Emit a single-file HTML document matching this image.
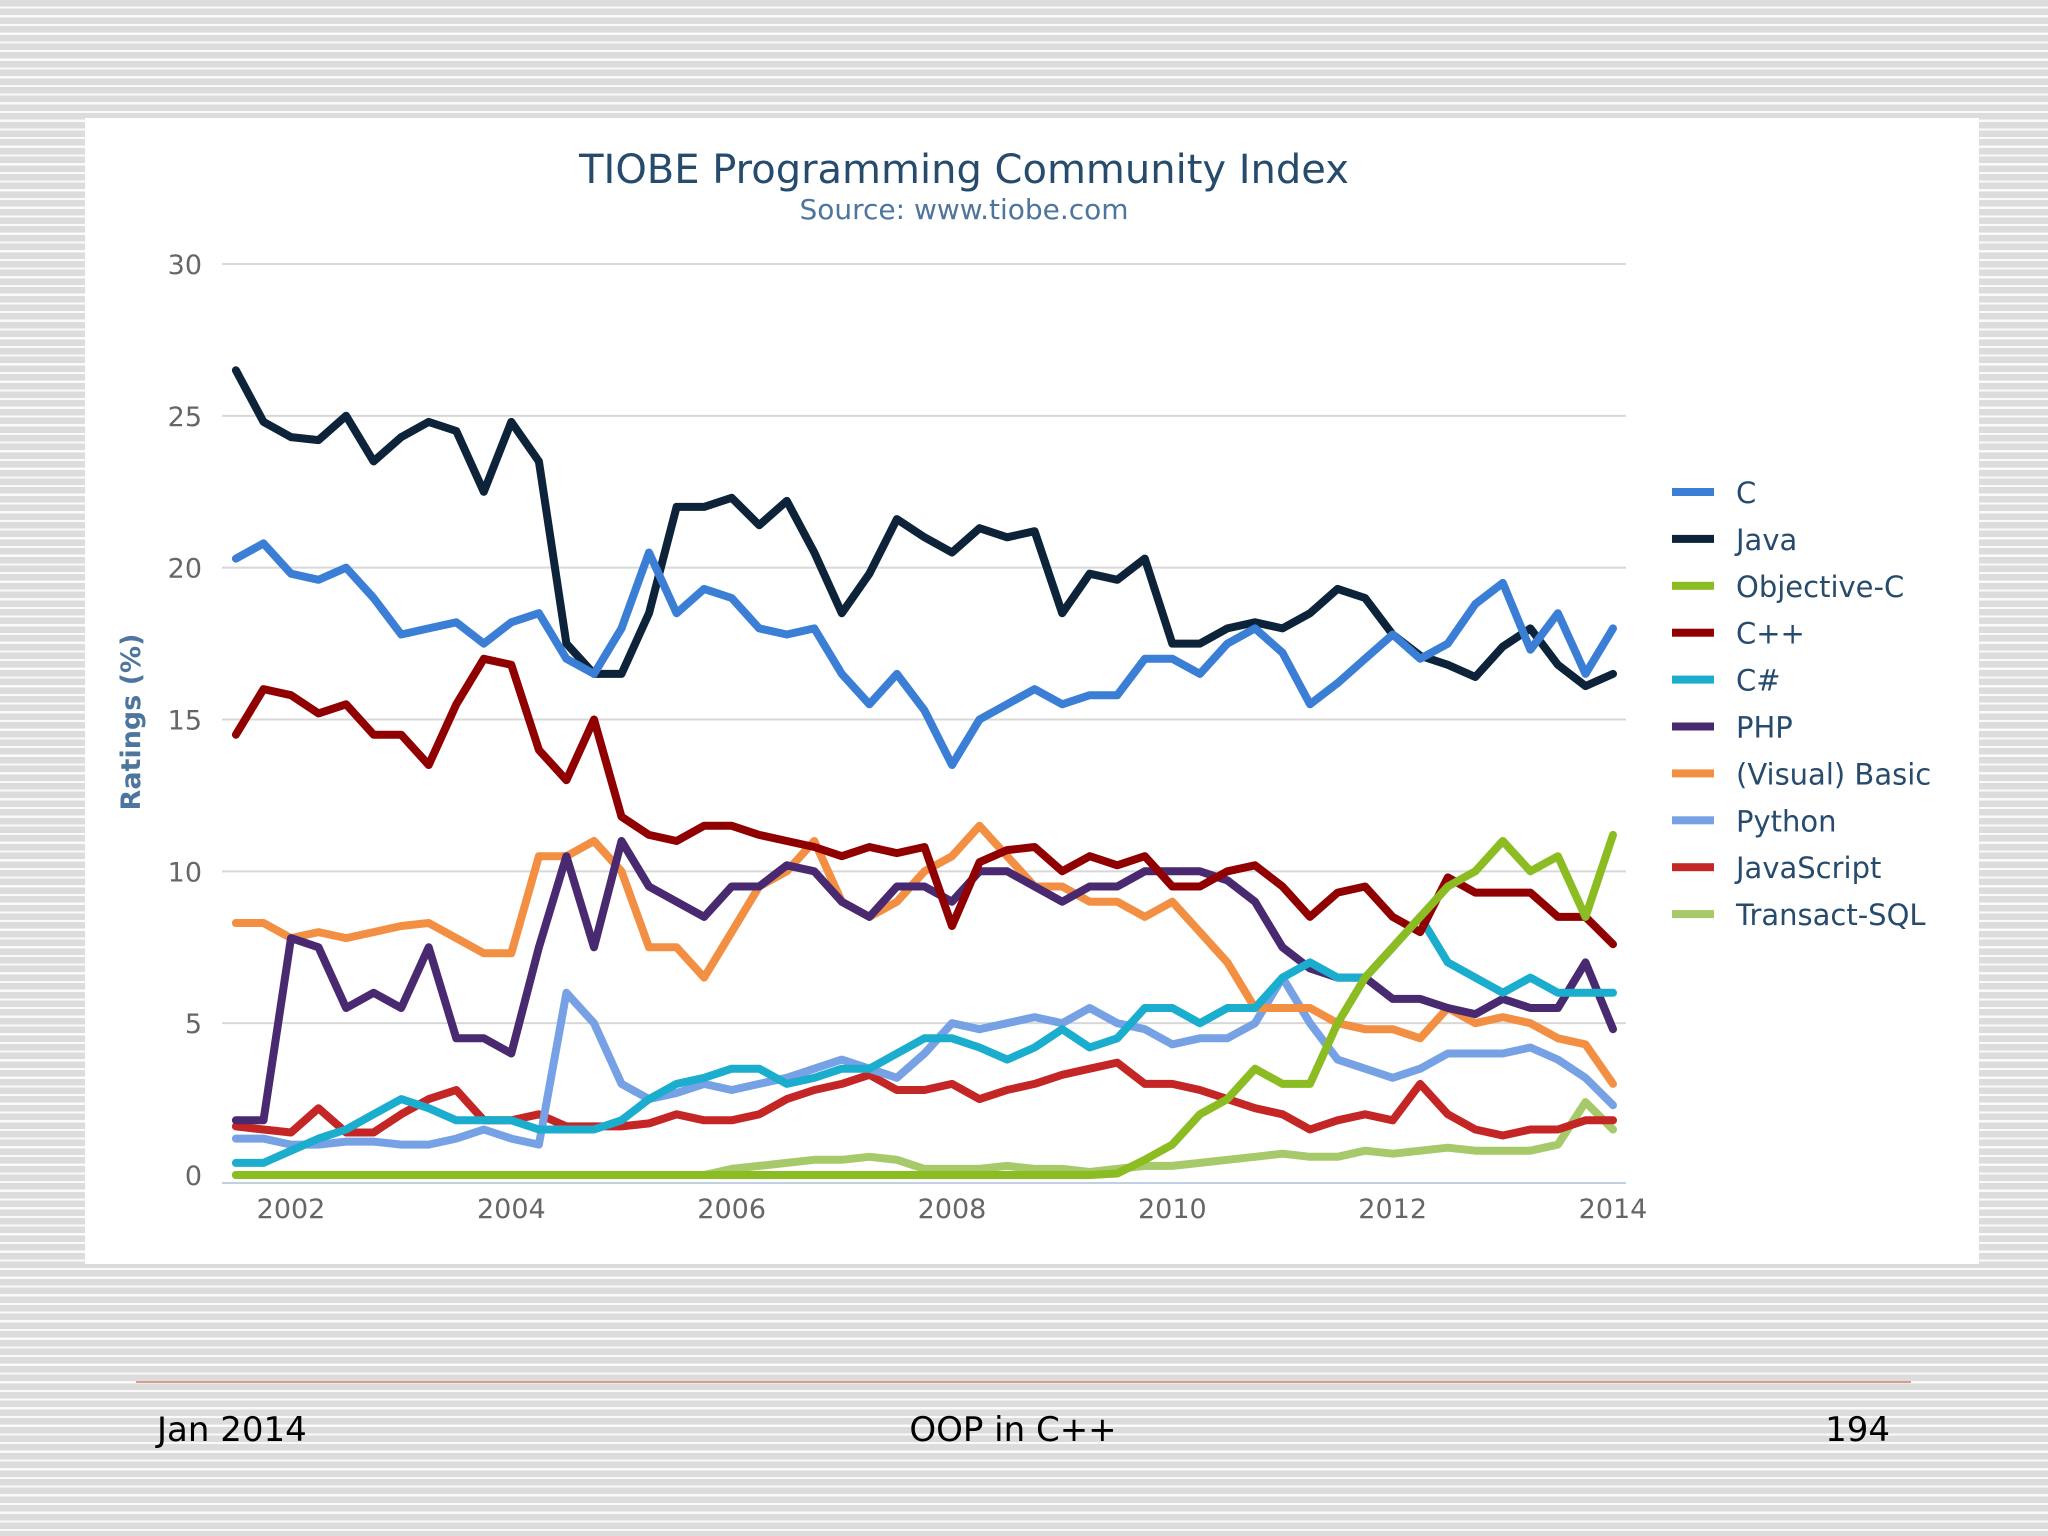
<!DOCTYPE html>
<html><head><meta charset="utf-8">
<style>
html,body{margin:0;padding:0;}
body{width:2048px;height:1536px;position:relative;overflow:hidden;
background:repeating-linear-gradient(to bottom,#dcdcdc 0px,#dcdcdc 6.5px,#fafafa 6.5px,#fafafa 8.7px);
font-family:"DejaVu Sans","Liberation Sans",sans-serif;}
#panel{position:absolute;left:85px;top:118px;width:1894px;height:1146px;background:#fff;}
svg{position:absolute;left:0;top:0;}
.foot{position:absolute;top:1410px;font-size:34px;color:#000;white-space:nowrap;}
</style></head><body>
<div id="panel"></div>
<svg id="chart" width="2048" height="1536"></svg>
<div style="position:absolute;left:136px;top:1381px;width:1775px;height:2px;background:#d99a8f;"></div>
<div class="foot" style="left:157px;">Jan 2014</div>
<div class="foot" style="left:813px;width:400px;text-align:center;">OOP in C++</div>
<div class="foot" style="left:1740px;width:150px;text-align:right;">194</div>
<script>
const yTicks=[0,5,10,15,20,25,30];
const xTicks=[2002,2004,2006,2008,2010,2012,2014];
const startYear=2001.5, stepYear=0.25;
const seriesNames=["C","Java","Objective-C","C++","C#","PHP","(Visual) Basic","Python","JavaScript","Transact-SQL"];
const seriesColors=["#3a7fd5","#0d233a","#8bbc21","#910000","#1aadce","#492970","#f28f43","#77a1e5","#c42525","#a6c96a"];
const cData=[20.3,20.8,19.8,19.6,20.0,19.0,17.8,18.0,18.2,17.5,18.2,18.5,17.0,16.5,18.0,20.5,18.5,19.3,19.0,18.0,17.8,18.0,16.5,15.5,16.5,15.3,13.5,15.0,15.5,16.0,15.5,15.8,15.8,17.0,17.0,16.5,17.5,18.0,17.2,15.5,16.2,17.0,17.8,17.0,17.5,18.8,19.5,17.3,18.5,16.5,18.0];
const javaData=[26.5,24.8,24.3,24.2,25.0,23.5,24.3,24.8,24.5,22.5,24.8,23.5,17.5,16.5,16.5,18.5,22.0,22.0,22.3,21.4,22.2,20.5,18.5,19.8,21.6,21.0,20.5,21.3,21.0,21.2,18.5,19.8,19.6,20.3,17.5,17.5,18.0,18.2,18.0,18.5,19.3,19.0,17.8,17.1,16.8,16.4,17.4,18.0,16.8,16.1,16.5];
const objcData=[0,0,0,0,0,0,0,0,0,0,0,0,0,0,0,0,0,0,0,0,0,0,0,0,0,0,0,0,0,0,0,0,0.05,0.5,1.0,2.0,2.5,3.5,3.0,3.0,5.0,6.5,7.5,8.5,9.5,10.0,11.0,10.0,10.5,8.5,11.2];
const cppData=[14.5,16.0,15.8,15.2,15.5,14.5,14.5,13.5,15.5,17.0,16.8,14.0,13.0,15.0,11.8,11.2,11.0,11.5,11.5,11.2,11.0,10.8,10.5,10.8,10.6,10.8,8.2,10.3,10.7,10.8,10.0,10.5,10.2,10.5,9.5,9.5,10.0,10.2,9.5,8.5,9.3,9.5,8.5,8.0,9.8,9.3,9.3,9.3,8.5,8.5,7.6];
const csData=[0.4,0.4,0.8,1.2,1.5,2.0,2.5,2.2,1.8,1.8,1.8,1.5,1.5,1.5,1.8,2.5,3.0,3.2,3.5,3.5,3.0,3.2,3.5,3.5,4.0,4.5,4.5,4.2,3.8,4.2,4.8,4.2,4.5,5.5,5.5,5.0,5.5,5.5,6.5,7.0,6.5,6.5,7.5,8.5,7.0,6.5,6.0,6.5,6.0,6.0,6.0];
const phpData=[1.8,1.8,7.8,7.5,5.5,6.0,5.5,7.5,4.5,4.5,4.0,7.5,10.5,7.5,11.0,9.5,9.0,8.5,9.5,9.5,10.2,10.0,9.0,8.5,9.5,9.5,9.0,10.0,10.0,9.5,9.0,9.5,9.5,10.0,10.0,10.0,9.7,9.0,7.5,6.8,6.5,6.5,5.8,5.8,5.5,5.3,5.8,5.5,5.5,7.0,4.8];
const basicData=[8.3,8.3,7.8,8.0,7.8,8.0,8.2,8.3,7.8,7.3,7.3,10.5,10.5,11.0,10.0,7.5,7.5,6.5,8.0,9.5,10.0,11.0,9.0,8.5,9.0,10.0,10.5,11.5,10.5,9.5,9.5,9.0,9.0,8.5,9.0,8.0,7.0,5.5,5.5,5.5,5.0,4.8,4.8,4.5,5.5,5.0,5.2,5.0,4.5,4.3,3.0];
const pythonData=[1.2,1.2,1.0,1.0,1.1,1.1,1.0,1.0,1.2,1.5,1.2,1.0,6.0,5.0,3.0,2.5,2.7,3.0,2.8,3.0,3.2,3.5,3.8,3.5,3.2,4.0,5.0,4.8,5.0,5.2,5.0,5.5,5.0,4.8,4.3,4.5,4.5,5.0,6.5,5.0,3.8,3.5,3.2,3.5,4.0,4.0,4.0,4.2,3.8,3.2,2.3];
const jsData=[1.6,1.5,1.4,2.2,1.4,1.4,2.0,2.5,2.8,1.8,1.8,2.0,1.6,1.6,1.6,1.7,2.0,1.8,1.8,2.0,2.5,2.8,3.0,3.3,2.8,2.8,3.0,2.5,2.8,3.0,3.3,3.5,3.7,3.0,3.0,2.8,2.5,2.2,2.0,1.5,1.8,2.0,1.8,3.0,2.0,1.5,1.3,1.5,1.5,1.8,1.8];
const tsqlData=[0,0,0,0,0,0,0,0,0,0,0,0,0,0,0,0,0,0,0.2,0.3,0.4,0.5,0.5,0.6,0.5,0.2,0.2,0.2,0.3,0.2,0.2,0.1,0.2,0.3,0.3,0.4,0.5,0.6,0.7,0.6,0.6,0.8,0.7,0.8,0.9,0.8,0.8,0.8,1.0,2.4,1.5];
const allSeries=[cData,javaData,objcData,cppData,csData,phpData,basicData,pythonData,jsData,tsqlData];

const NS="http://www.w3.org/2000/svg";
const svg=document.getElementById('chart');
const PL=222,PR=1626,Y0=1175,Y30=264;
function yScale(v){return Y0-(v/30)*(Y0-Y30);}
function xScale(yr){return 291+(yr-2002)*(1613-291)/12;}
function mk(tag,attrs){const e=document.createElementNS(NS,tag);for(const k in attrs)e.setAttribute(k,attrs[k]);svg.appendChild(e);return e;}

let t=mk('text',{x:964,y:183,'text-anchor':'middle','font-size':40,fill:'#274b6d'});


t.textContent='TIOBE Programming Community Index';
t=mk('text',{x:964,y:219,'text-anchor':'middle','font-size':28,fill:'#4d759e'});


t.textContent='Source: www.tiobe.com';
t=mk('text',{x:140,y:722,'text-anchor':'middle','font-size':27,'font-weight':'bold',fill:'#4d759e',transform:'rotate(-90 140 722)'});


t.textContent='Ratings (%)';

yTicks.forEach(v=>{
  if(v>0){const g=mk('line',{x1:PL,x2:PR,y1:yScale(v),y2:yScale(v),stroke:'#d8d8d8','stroke-width':2});
  
  }
  const l=mk('text',{x:202,y:yScale(v)+10,'text-anchor':'end','font-size':27,fill:'#666'});
  
  
  l.textContent=v;
});
const ax=mk('line',{x1:PL,x2:PR,y1:Y0+8,y2:Y0+8,stroke:'#c0d0e0','stroke-width':2});


xTicks.forEach(yr=>{
  const l=mk('text',{x:xScale(yr),y:1218,'text-anchor':'middle','font-size':27,fill:'#666'});
  
  
  l.textContent=yr;
});
for(let s=allSeries.length-1;s>=0;s--){
  const d=allSeries[s].map((v,i)=>(i?'L':'M')+xScale(startYear+i*stepYear).toFixed(1)+' '+yScale(v).toFixed(1)).join(' ');
  const p=mk('path',{d:d,fill:'none',stroke:seriesColors[s],'stroke-width':8,'stroke-linejoin':'round','stroke-linecap':'round'});
  
  
}
seriesNames.forEach((n,i)=>{
  const y=492+i*46.9;
  const r=mk('rect',{x:1672,y:y-4,width:42,height:8,fill:seriesColors[i]});
  
  
  const l=mk('text',{x:1736,y:y+11,'font-size':29,fill:'#274b6d'});
  
  
  l.textContent=n;
});
</script>
</body></html>
